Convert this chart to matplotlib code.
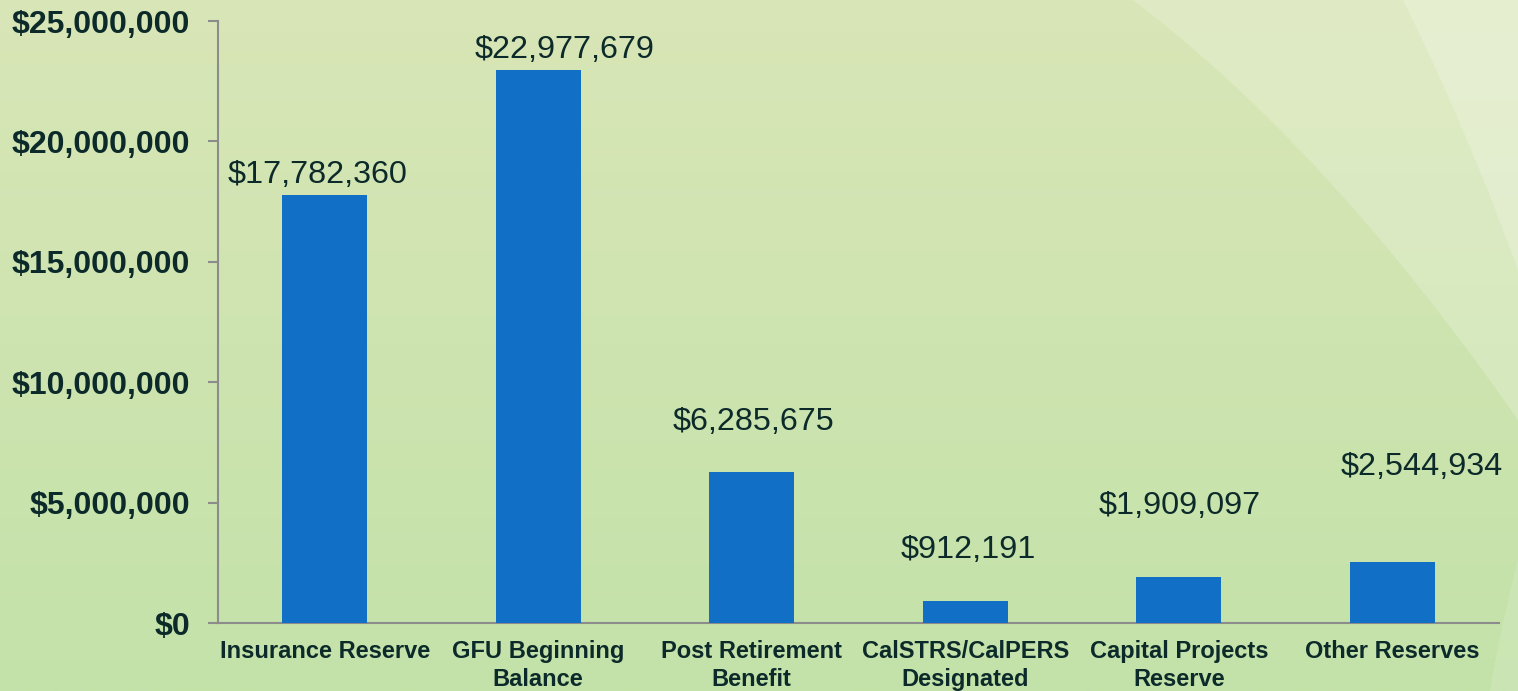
import numpy as np
import matplotlib.pyplot as plt
from matplotlib.ticker import FuncFormatter

# Reserve balances
categories = ["Insurance Reserve", "GFU Beginning\nBalance", "Post Retirement\nBenefit",
              "CalSTRS/CalPERS\nDesignated", "Capital Projects\nReserve", "Other Reserves"]
amounts = [17782360, 22977679, 6285675, 912191, 1909097, 2544934]
y_ticks = [0, 5000000, 10000000, 15000000, 20000000, 25000000]

# label nudges (points), as placed in the original slide
label_dx = [-5, 19, 1, 2, 1, 21]
label_dy = [14, 14.5, 36, 36.5, 51.5, 68]

text_color = "#0c2a2a"
bar_color = "#116fc6"

plt.rcParams["font.family"] = ["Liberation Sans", "DejaVu Sans"]

fig = plt.figure(figsize=(15.18, 6.91), dpi=100)


def curve(p0, p1, p2, n=40):
    # quadratic bezier through control point p1
    s = np.linspace(0, 1, n)[:, None]
    p0, p1, p2 = map(np.array, (p0, p1, p2))
    return (1 - s) ** 2 * p0 + 2 * (1 - s) * s * p1 + s ** 2 * p2


# background: vertical green gradient with lighter sweeps top right
bg = fig.add_axes([0, 0, 1, 1], zorder=-10)
top = np.array([217, 230, 183]) / 255
bot = np.array([195, 226, 169]) / 255
t = np.linspace(0, 1, 256)[:, None]
grad = top[None, :] * (1 - t) + bot[None, :] * t
bg.imshow(grad[:, None, :], aspect="auto", extent=[0, 1518, 691, 0])

c1 = curve((1133, 0), (1330, 150), (1518, 420))
bg.fill(np.r_[c1[:, 0], 1518], np.r_[c1[:, 1], 0], color="white", alpha=0.2, lw=0)
c2 = curve((1403, 0), (1465, 125), (1518, 270))
bg.fill(np.r_[c2[:, 0], 1518], np.r_[c2[:, 1], 0], color="white", alpha=0.22, lw=0)
c3 = curve((1518, 560), (1500, 630), (1490, 691))
bg.fill(np.r_[c3[:, 0], 1518], np.r_[c3[:, 1], 691], color="white", alpha=0.12, lw=0)
bg.set_xlim(0, 1518)
bg.set_ylim(691, 0)
bg.axis("off")

ax = fig.add_axes([218 / 1518, 68 / 691, (1499 - 218) / 1518, (623 - 21) / 691])
ax.patch.set_alpha(0)

x = np.arange(len(categories))
ax.bar(x, amounts, width=0.4, color=bar_color, zorder=3)

for i, v in enumerate(amounts):
    ax.annotate(f"${v:,}", (x[i], v), xytext=(label_dx[i], label_dy[i]),
                textcoords="offset points", ha="center", va="center",
                fontsize=23.3, color=text_color)

ax.set_xlim(-0.5, 5.5)
ax.set_ylim(0, 25000000)
ax.set_yticks(y_ticks)
ax.yaxis.set_major_formatter(FuncFormatter(lambda v, p: f"${v:,.0f}"))
ax.set_xticks(x)
ax.set_xticklabels(categories, fontsize=17, fontweight="bold", color=text_color,
                   linespacing=1.3)
for lbl in ax.get_yticklabels():
    lbl.set_fontweight("bold")
    lbl.set_fontsize(23)
    lbl.set_color(text_color)

ax.tick_params(axis="y", length=7, width=1.5, color="#8c8c8c", pad=13)
ax.tick_params(axis="x", length=0, pad=12)

for s in ["top", "right"]:
    ax.spines[s].set_visible(False)
for s in ["left", "bottom"]:
    ax.spines[s].set_color("#8c8c8c")
    ax.spines[s].set_linewidth(1.5)

plt.savefig("out.png", dpi=100)
